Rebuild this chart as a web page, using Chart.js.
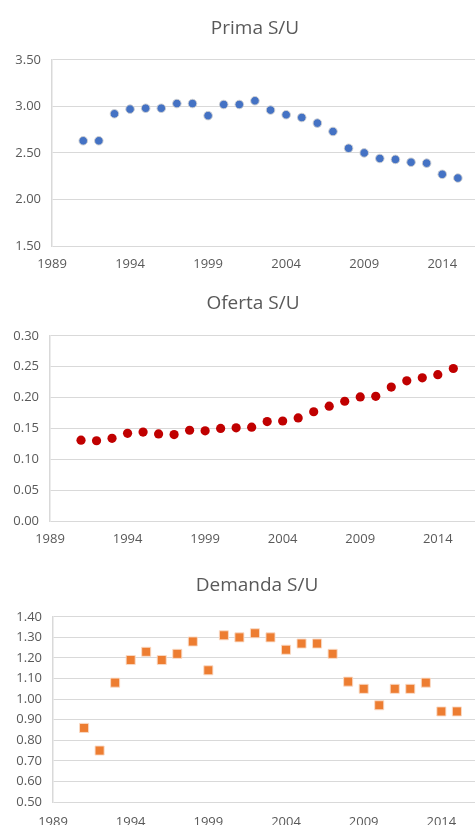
<!DOCTYPE html>
<html>
<head>
<meta charset="utf-8">
<script src="https://cdn.jsdelivr.net/npm/chart.js@4"></script>
<style>
    html, body { margin: 0; padding: 0; background: #fff; overflow: hidden; }
    body { width: 475px; height: 825px; position: relative; }
    .box { position: absolute; left: 0; }
</style>
</head>
<body>
<div class="box" style="top:0;width:510px;height:275px"><canvas id="prima"></canvas></div>
<div class="box" style="top:275px;width:506px;height:275px"><canvas id="oferta"></canvas></div>
<div class="box" style="top:550px;width:514px;height:285px"><canvas id="demanda"></canvas></div>
<script>
// Ma'lumotlar
const years = [1991, 1992, 1993, 1994, 1995, 1996, 1997, 1998, 1999, 2000, 2001, 2002, 2003,
    2004, 2005, 2006, 2007, 2008, 2009, 2010, 2011, 2012, 2013, 2014, 2015];
const primaValues = [2.63, 2.63, 2.92, 2.97, 2.98, 2.98, 3.03, 3.03, 2.90, 3.02, 3.02, 3.06, 2.96,
    2.91, 2.88, 2.82, 2.73, 2.55, 2.50, 2.44, 2.43, 2.40, 2.39, 2.27, 2.23];
const ofertaValues = [0.131, 0.130, 0.134, 0.142, 0.144, 0.141, 0.140, 0.147, 0.146, 0.150, 0.151, 0.152, 0.161,
    0.162, 0.167, 0.177, 0.186, 0.194, 0.201, 0.202, 0.217, 0.227, 0.232, 0.237, 0.247];
const demandaValues = [0.86, 0.75, 1.08, 1.19, 1.23, 1.19, 1.22, 1.28, 1.14, 1.31, 1.30, 1.32, 1.30,
    1.24, 1.27, 1.27, 1.22, 1.085, 1.05, 0.97, 1.05, 1.05, 1.08, 0.94, 0.94];
const xTicks = [1989, 1994, 1999, 2004, 2009, 2014];

const FONT = "'Open Sans', 'DejaVu Sans', sans-serif";
const TEXT = '#595959';
const GRID = '#d9d9d9';

// Bitta grafikni yaratish (o'ng tomoni oyna chetida kesiladi)
function makeChart(id, opts) {
    const ctx = document.getElementById(id).getContext('2d');
    return new Chart(ctx, {
        type: 'scatter',
        data: {
            datasets: [{
                data: years.map((y, i) => ({ x: y, y: opts.values[i] })),
                backgroundColor: opts.color,
                borderColor: opts.border,
                borderWidth: opts.borderWidth,
                pointStyle: opts.pointStyle,
                pointRadius: opts.radius,
                pointHoverRadius: opts.radius
            }]
        },
        options: {
            responsive: true,
            maintainAspectRatio: false,
            animation: false,
            layout: { padding: 0 },
            plugins: {
                legend: { display: false },
                tooltip: { enabled: false },
                title: {
                    display: true,
                    text: opts.title,
                    color: TEXT,
                    font: { family: FONT, size: 19, weight: 'normal', lineHeight: 1.2 },
                    padding: opts.titlePadding
                }
            },
            scales: {
                x: {
                    type: 'linear',
                    min: 1989,
                    max: opts.xMax,
                    afterBuildTicks: axis => { axis.ticks = xTicks.map(v => ({ value: v })); },
                    afterFit: axis => { axis.height = opts.xHeight; },
                    grid: { display: false, drawTicks: false },
                    border: { display: false },
                    ticks: {
                        color: TEXT,
                        font: { family: FONT, size: 13 },
                        padding: opts.xPad,
                        maxRotation: 0,
                        autoSkip: false,
                        callback: v => String(v)
                    }
                },
                y: {
                    min: opts.yMin,
                    max: opts.yMax,
                    afterFit: axis => { axis.width = opts.left; },
                    grid: { color: GRID, lineWidth: 1, drawTicks: false },
                    border: { display: true, color: GRID, width: 1.5 },
                    ticks: {
                        stepSize: opts.step,
                        color: TEXT,
                        font: { family: FONT, size: 13 },
                        padding: 11,
                        callback: v => v.toFixed(2)
                    }
                }
            }
        }
    });
}

makeChart('prima', {
    title: 'Prima S/U', values: primaValues,
    color: '#4472C4', border: 'rgba(210,210,210,0.9)', borderWidth: 1, pointStyle: 'circle', radius: 4.3,
    yMin: 1.5, yMax: 3.5, step: 0.5,
    left: 52, xMax: 2018, xHeight: 29, xPad: 10,
    titlePadding: { top: 17, bottom: 20 }
});

makeChart('oferta', {
    title: 'Oferta S/U', values: ofertaValues,
    color: '#C00000', border: '#C00000', borderWidth: 0, pointStyle: 'circle', radius: 4.6,
    yMin: 0, yMax: 0.3, step: 0.05,
    left: 50, xMax: 2018.1, xHeight: 29, xPad: 10,
    titlePadding: { top: 17, bottom: 21 }
});

makeChart('demanda', {
    title: 'Demanda S/U', values: demandaValues,
    color: '#ED7D31', border: 'rgba(250,220,200,0.9)', borderWidth: 1, pointStyle: 'rect', radius: 6.4,
    yMin: 0.5, yMax: 1.4, step: 0.1,
    left: 53, xMax: 2018.2, xHeight: 33, xPad: 12,
    titlePadding: { top: 24, bottom: 20 }
});
</script>
</body>
</html>
